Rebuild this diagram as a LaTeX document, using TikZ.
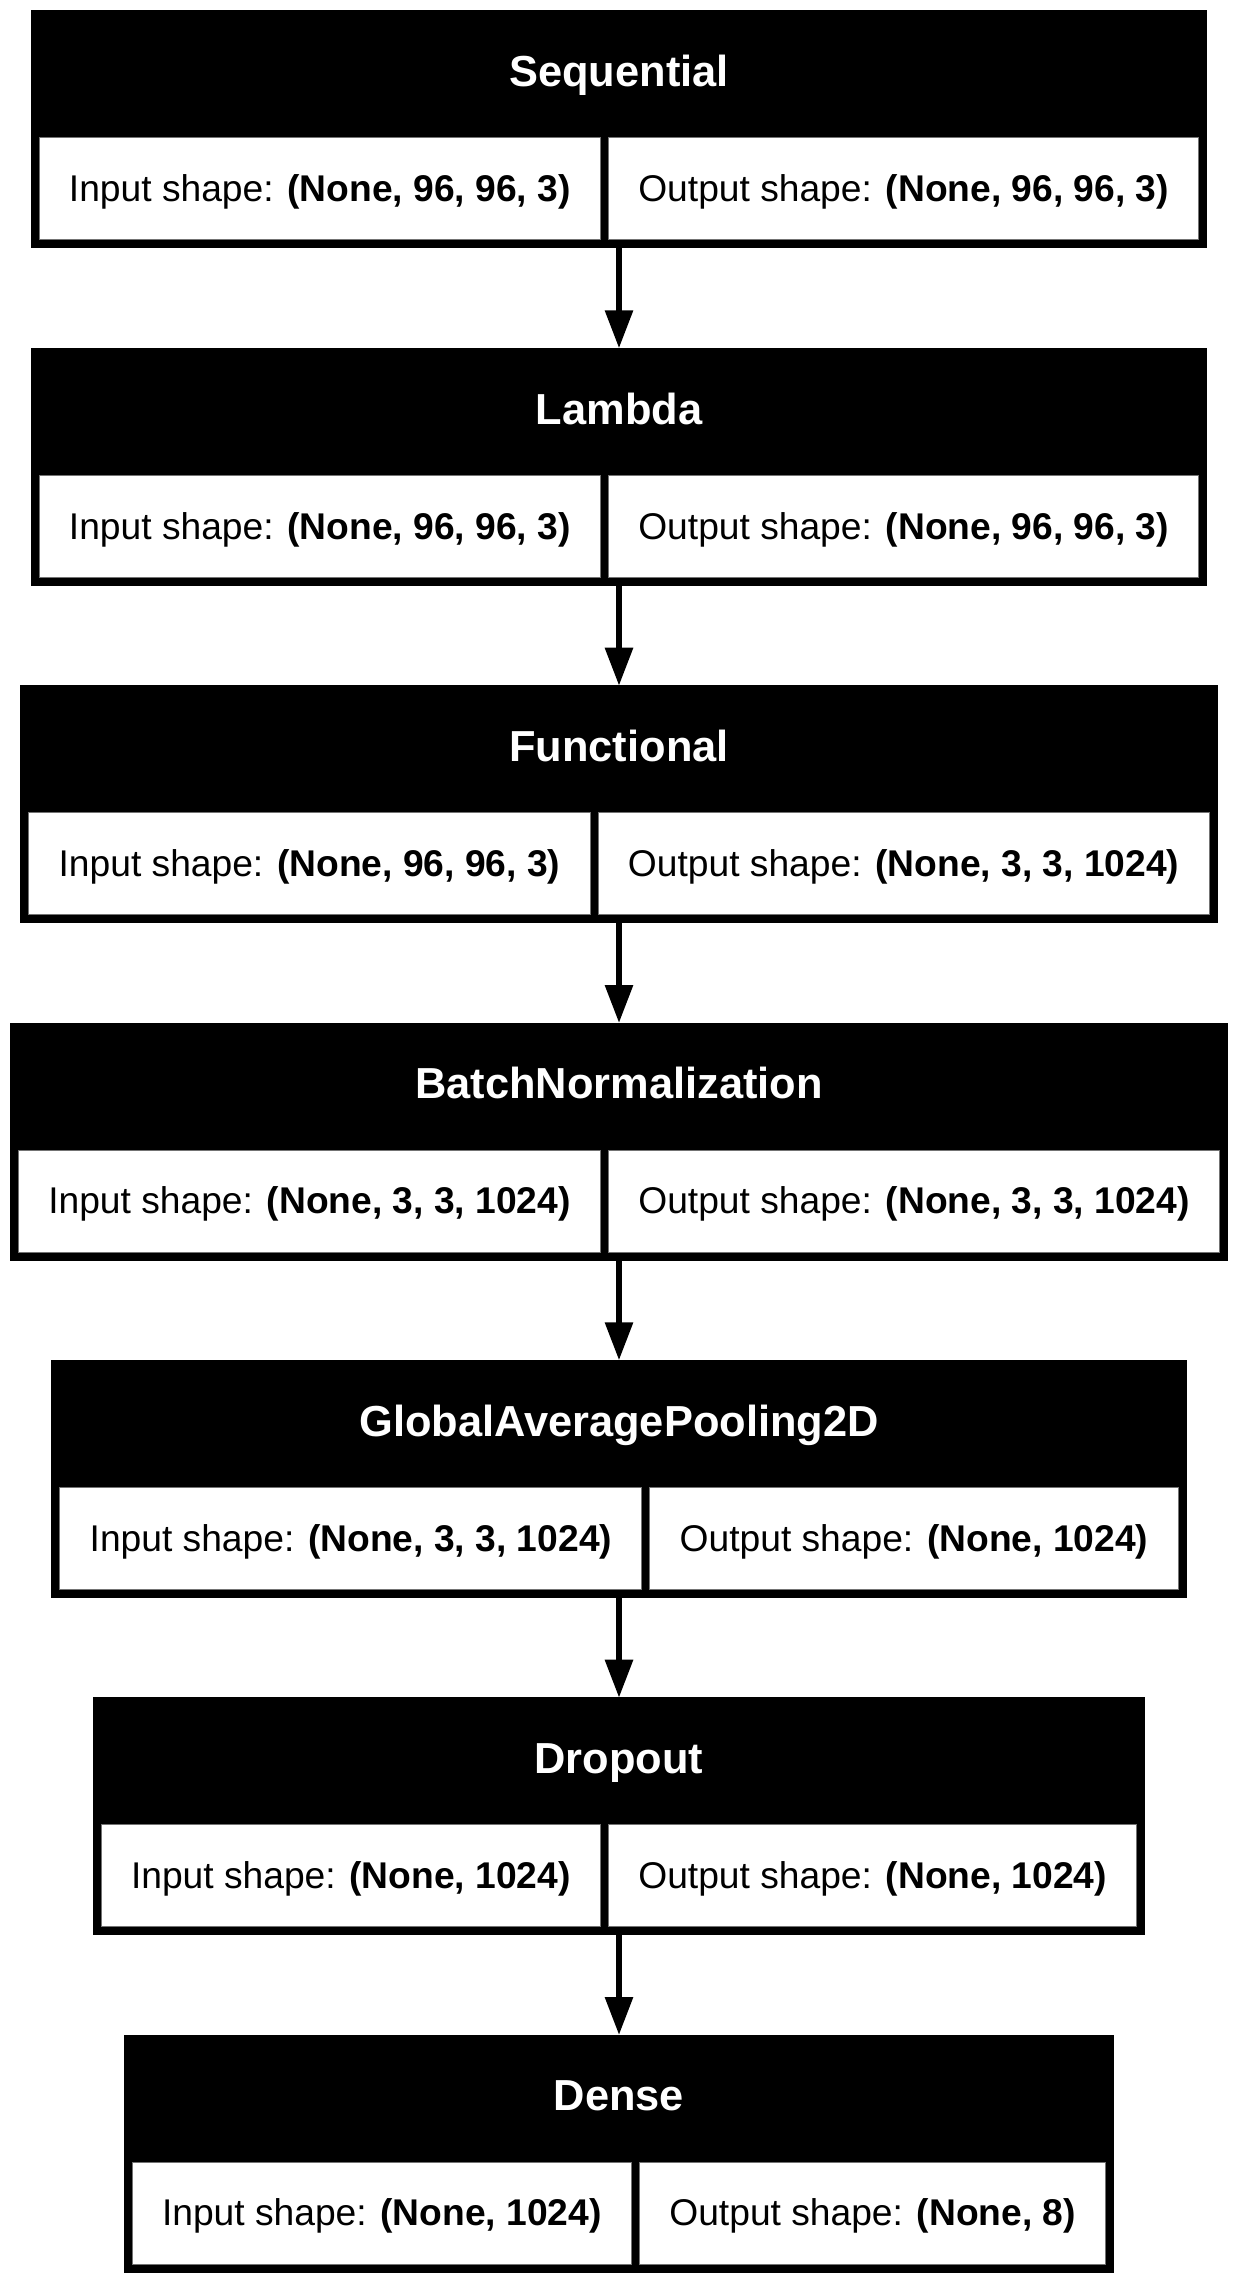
\documentclass[tikz,border=0pt]{standalone}
\usepackage{fontspec}
\setmainfont{Liberation Sans}
\usetikzlibrary{arrows.meta}

\tikzset{
  blockbox/.style={rectangle, fill=black, draw=black, line width=0.5pt, inner sep=0pt, outer sep=0pt},
  cellbox/.style={rectangle, fill=white, draw=black!55, line width=0.5pt, inner sep=0pt, outer sep=0pt, minimum height=51pt},
  titletext/.style={text=white, font=\fontsize{21.7pt}{26pt}\selectfont\bfseries, anchor=base, inner sep=0pt},
  celltext/.style={text=black, font=\fontsize{18.6pt}{22pt}\selectfont, anchor=base, inner sep=0pt},
  flow/.style={line width=3pt, -{Triangle[width=13.5pt,length=19pt]}},
}

% One layer: name, top edge, input-cell width, output-cell width, title, input shape, output shape
\newcommand{\kerasblock}[7]{%
  \pgfmathsetmacro{\kbTotal}{#3+#4+24}%
  \pgfmathsetmacro{\kbLeft}{619-\kbTotal/2}%
  \node[blockbox, minimum width=\kbTotal*0.5pt, minimum height=118.5pt] (#1) at (619,#2+118.5) {};
  \node[titletext] (#1-title) at (619,#2+75.7) {#5};
  \node[cellbox, minimum width=#3*0.5pt] (#1-in) at (\kbLeft+8+#3/2,#2+178) {};
  \node[cellbox, minimum width=#4*0.5pt] (#1-out) at (\kbLeft+16+#3+#4/2,#2+178) {};
  \node[celltext] (#1-intext) at (\kbLeft+8+#3/2,#2+190.7) {Input shape: \textbf{#6}};
  \node[celltext] (#1-outtext) at (\kbLeft+16+#3+#4/2,#2+190.7) {Output shape: \textbf{#7}};
}

\begin{document}
\begin{tikzpicture}[x=0.5pt, y=-0.5pt]
  \fill[white] (0,0) rectangle (1238,2285);
  \useasboundingbox (0,0) rectangle (1238,2285);

  \kerasblock{seq}{11}{561.3}{590.3}{Sequential}{(None, 96, 96, 3)}{(None, 96, 96, 3)}
  \kerasblock{lam}{348.3}{561.3}{590.3}{Lambda}{(None, 96, 96, 3)}{(None, 96, 96, 3)}
  \kerasblock{fun}{685.7}{561.3}{611}{Functional}{(None, 96, 96, 3)}{(None, 3, 3, 1024)}
  \kerasblock{bn}{1023}{582}{611}{BatchNormalization}{(None, 3, 3, 1024)}{(None, 3, 3, 1024)}
  \kerasblock{gap}{1360.3}{582}{528.2}{GlobalAveragePooling2D}{(None, 3, 3, 1024)}{(None, 1024)}
  \kerasblock{drop}{1697.7}{499.3}{528.2}{Dropout}{(None, 1024)}{(None, 1024)}
  \kerasblock{dense}{2035}{499.3}{466.2}{Dense}{(None, 1024)}{(None, 8)}

  \draw[flow] (seq.south) -- (lam.north);
  \draw[flow] (lam.south) -- (fun.north);
  \draw[flow] (fun.south) -- (bn.north);
  \draw[flow] (bn.south) -- (gap.north);
  \draw[flow] (gap.south) -- (drop.north);
  \draw[flow] (drop.south) -- (dense.north);
\end{tikzpicture}
\end{document}
